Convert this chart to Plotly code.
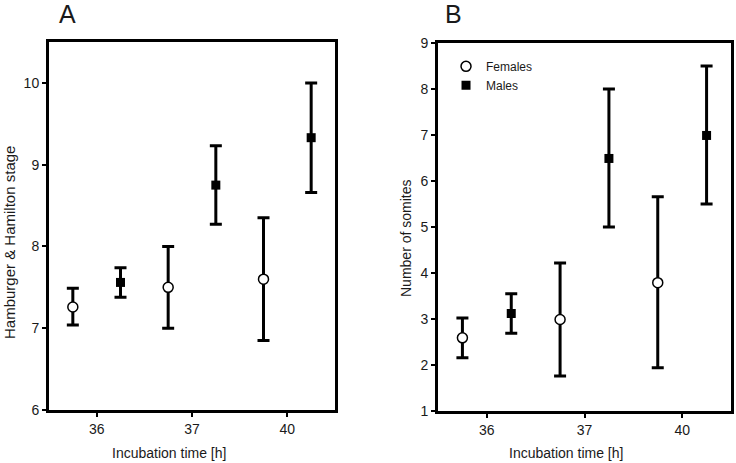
import plotly.graph_objects as go

# ---- data ----
times = ["36", "37", "40"]

# Panel A: Hamburger & Hamilton stage
a_fem_mean = [7.26, 7.50, 7.60]
a_fem_upper = [7.49, 8.00, 8.35]
a_fem_lower = [7.04, 7.00, 6.85]
a_male_mean = [7.56, 8.75, 9.33]
a_male_upper = [7.74, 9.23, 10.00]
a_male_lower = [7.38, 8.27, 8.66]

# Panel B: number of somites
b_fem_mean = [2.59, 2.99, 3.79]
b_fem_upper = [3.02, 4.22, 5.66]
b_fem_lower = [2.16, 1.76, 1.94]
b_male_mean = [3.12, 6.49, 6.99]
b_male_upper = [3.55, 8.00, 8.50]
b_male_lower = [2.69, 5.00, 5.50]

FONT = "Liberation Sans, Arial, sans-serif"
TXT = "#1a1a1a"

idx = list(range(len(times)))
x_f = [i - 0.25 for i in idx]
x_m = [i + 0.25 for i in idx]


def err(mean, upper, lower, show=True):
    return dict(type="data", symmetric=False,
                array=[u - m for u, m in zip(upper, mean)],
                arrayminus=[m - l for m, l in zip(mean, lower)],
                color="black", thickness=3, width=6, visible=show)


fig = go.Figure()

def add_panel(fm, fu, fl, mm, mu, ml, xa, ya, legend):
    fig.add_trace(go.Scatter(
        x=x_f, y=fm, mode="markers", name="Females",
        xaxis=xa, yaxis=ya, showlegend=legend,
        marker=dict(symbol="circle", size=10, color="white",
                    line=dict(color="black", width=1.5)),
        error_y=err(fm, fu, fl)))
    fig.add_trace(go.Scatter(
        x=x_m, y=mm, mode="markers", name="Males",
        xaxis=xa, yaxis=ya, showlegend=legend,
        marker=dict(symbol="square", size=9, color="black",
                    line=dict(color="black", width=0)),
        error_y=err(mm, mu, ml)))

add_panel(a_fem_mean, a_fem_upper, a_fem_lower,
          a_male_mean, a_male_upper, a_male_lower, "x", "y", False)
add_panel(b_fem_mean, b_fem_upper, b_fem_lower,
          b_male_mean, b_male_upper, b_male_lower, "x2", "y2", True)

W, H = 736, 463
axcommon = dict(showline=True, linecolor="black", linewidth=3, mirror=True,
                ticks="outside", ticklen=4, tickwidth=2, tickcolor="black",
                showgrid=False, zeroline=False,
                tickfont=dict(family=FONT, size=14, color=TXT))

xa = dict(axcommon, range=[-0.5, 2.5], tickvals=idx, ticktext=times)


def label(text, px, py, size=14, angle=0):
    return dict(text=text, x=px / W, y=1 - py / H, xref="paper", yref="paper",
                showarrow=False, xanchor="center", yanchor="middle",
                textangle=angle, font=dict(family=FONT, size=size, color=TXT))


fig.update_layout(
    width=W, height=H,
    margin=dict(l=0, r=0, t=0, b=0, autoexpand=False),
    paper_bgcolor="white", plot_bgcolor="white",
    xaxis=dict(xa, domain=[49 / W, 335 / W], anchor="y"),
    yaxis=dict(axcommon, domain=[1 - 410 / H, 1 - 42 / H], anchor="x",
               range=[6, 10.5], tickvals=[6, 7, 8, 9, 10]),
    xaxis2=dict(xa, domain=[438 / W, 731 / W], anchor="y2"),
    yaxis2=dict(axcommon, domain=[1 - 411 / H, 1 - 43 / H], anchor="x2",
                range=[1, 9], tickvals=list(range(1, 10))),
    showlegend=True,
    legend=dict(x=0.606, y=0.888, xanchor="left", yanchor="top",
                bgcolor="rgba(0,0,0,0)", tracegroupgap=0,
                itemwidth=30,
                font=dict(family=FONT, size=12, color=TXT)),
    annotations=[
        label("A", 67, 14, size=25),
        label("B", 453, 14, size=25),
        label("Incubation time [h]", 169, 453),
        label("Incubation time [h]", 566, 453),
        label("Hamburger &amp; Hamilton stage", 9, 243, size=15, angle=-90),
        label("Number of somites", 406, 238, angle=-90),
    ],
)

fig.write_html("out.html",
               config={"displayModeBar": False},
               post_script="document.body.style.margin='0';"
                           "document.body.style.overflow='hidden';")
